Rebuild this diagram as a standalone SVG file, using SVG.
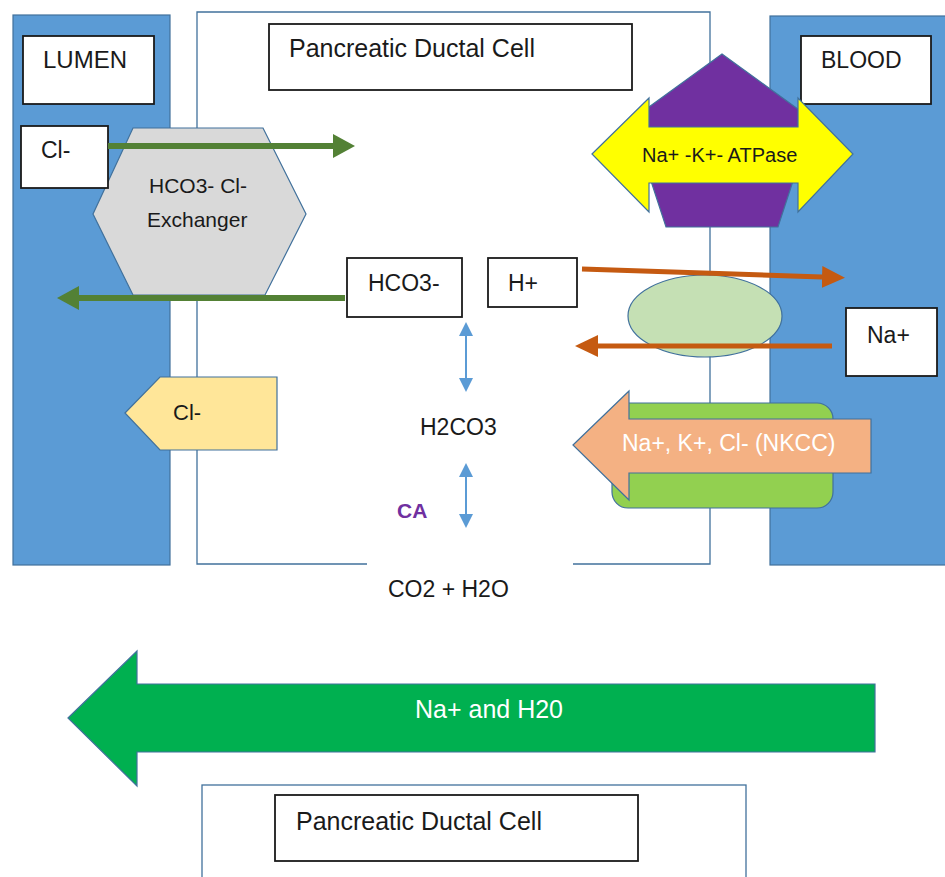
<svg xmlns="http://www.w3.org/2000/svg" width="945" height="877" viewBox="0 0 945 877">
<style>
  text { font-family: "Liberation Sans", Arial, sans-serif; fill: #1a1a1a; }
  .region { fill: #5b9bd5; stroke: #41719c; stroke-width: 1.2; }
  .cell { fill: none; stroke: #41719c; stroke-width: 1.3; }
  .box { fill: #ffffff; stroke: #1a1a1a; stroke-width: 1.8; }
  .shape { stroke: #41719c; stroke-width: 1.2; }
  .lbl { font-size: 23px; }
  .white { fill: #ffffff; }
  .green { stroke: #538135; stroke-width: 6; fill: none; }
  .orange { stroke: #c55a11; stroke-width: 5; fill: none; }
  .blue { stroke: #5b9bd5; stroke-width: 2; fill: none; }
</style>
<defs>
  <marker id="mGreen" markerUnits="userSpaceOnUse" markerWidth="22" markerHeight="24" refX="0" refY="12" orient="auto">
    <path d="M0,0 L22,12 L0,24 z" fill="#538135"/>
  </marker>
  <marker id="mOrange" markerUnits="userSpaceOnUse" markerWidth="23" markerHeight="22" refX="0" refY="11" orient="auto">
    <path d="M0,0 L23,11 L0,22 z" fill="#c55a11"/>
  </marker>
  <marker id="mBlue" markerUnits="userSpaceOnUse" markerWidth="14" markerHeight="14" refX="0" refY="7" orient="auto-start-reverse">
    <path d="M0,0 L14,7 L0,14 z" fill="#5b9bd5"/>
  </marker>
</defs>

<!-- Regions -->
<g id="lumen">
  <rect class="region" x="13" y="15" width="157" height="550"/>
</g>
<g id="blood">
  <rect class="region" x="770" y="16" width="180" height="549"/>
</g>
<g id="cell-top">
  <path class="cell" d="M367,564 H197 V12 H710 V564 H573"/>
</g>

<!-- Labels -->
<g id="lumen-label">
  <rect class="box" x="23" y="36" width="131" height="68"/>
  <text x="43" y="68" style="font-size:24px">LUMEN</text>
</g>
<g id="blood-label">
  <rect class="box" x="801" y="36" width="130" height="68"/>
  <text x="821" y="68" style="font-size:23px">BLOOD</text>
</g>
<g id="cell-title">
  <rect class="box" x="269" y="24" width="363" height="66"/>
  <text x="289" y="57" style="font-size:25px">Pancreatic Ductal Cell</text>
</g>

<!-- Exchanger -->
<g id="exchanger">
  <polygon class="shape" fill="#d9d9d9" points="133,128 263,128 306,214 265,295 133,295 93,214"/>
  <text x="149" y="193" style="font-size:21px">HCO3- Cl-</text>
  <text x="147" y="227" style="font-size:21px">Exchanger</text>
</g>
<g id="cl-lumen">
  <rect class="box" x="21" y="126" width="87" height="62"/>
  <text class="lbl" x="41" y="158">Cl-</text>
</g>

<!-- Cl- channel -->
<g id="cl-channel">
  <polygon class="shape" fill="#ffe699" points="125,413 160,377 277,377 277,450 160,450"/>
  <text x="173" y="420" style="font-size:22px">Cl-</text>
</g>

<!-- Na K ATPase -->
<g id="atpase">
  <polygon class="shape" fill="#7030a0" points="722,54 813,120 778,227 666,227 631,120"/>
  <polygon class="shape" fill="#ffff00" points="592,154 649,98 649,127 798,127 798,98 853,154 798,212 798,183 649,183 649,212"/>
  <text x="642" y="162" style="font-size:20px" fill="#000">Na+ -K+- ATPase</text>
</g>

<!-- Na/H exchanger -->
<g id="nhe">
  <ellipse class="shape" fill="#c5e0b4" cx="705" cy="316" rx="77" ry="41"/>
</g>

<g id="hco3">
  <rect class="box" x="347" y="258" width="115" height="59"/>
  <text class="lbl" x="368" y="291">HCO3-</text>
</g>
<g id="hplus">
  <rect class="box" x="488" y="258" width="89" height="49"/>
  <text class="lbl" x="508" y="291">H+</text>
</g>
<g id="na-blood">
  <rect class="box" x="846" y="308" width="91" height="68"/>
  <text class="lbl" x="867" y="343">Na+</text>
</g>

<g id="h2co3">
  <text class="lbl" x="420" y="435">H2CO3</text>
</g>
<g id="ca">
  <text x="397" y="518" style="font-size:21px;font-weight:bold;fill:#7030a0">CA</text>
</g>
<g id="co2h2o">
  <text class="lbl" x="388" y="597">CO2 + H2O</text>
</g>

<!-- Connectors -->
<g id="connectors">
  <line class="green" x1="108" y1="146" x2="333" y2="146" marker-end="url(#mGreen)"/>
  <line class="green" x1="345" y1="298" x2="79" y2="298" marker-end="url(#mGreen)"/>
  <line class="orange" x1="582" y1="269" x2="822" y2="277" marker-end="url(#mOrange)"/>
  <line class="orange" x1="832" y1="346" x2="598" y2="346" marker-end="url(#mOrange)"/>
  <line class="blue" x1="466" y1="336" x2="466" y2="378" marker-start="url(#mBlue)" marker-end="url(#mBlue)"/>
  <line class="blue" x1="466" y1="477" x2="466" y2="514" marker-start="url(#mBlue)" marker-end="url(#mBlue)"/>
</g>

<!-- NKCC -->
<g id="nkcc">
  <rect class="shape" fill="#92d050" x="612" y="403" width="221" height="105" rx="16"/>
  <polygon class="shape" fill="#f4b183" points="573,445 629,391 629,419 871,419 871,473 629,473 629,500"/>
  <text class="white" x="622" y="451" style="font-size:23px">Na+, K+, Cl- (NKCC)</text>
</g>

<!-- Na and H2O flow -->
<g id="na-h2o">
  <polygon class="shape" fill="#00b050" points="68,718 137,651 137,684 875,684 875,752 137,752 137,786"/>
  <text class="white" x="415" y="718" style="font-size:25px">Na+ and H20</text>
</g>

<!-- Bottom cell -->
<g id="cell-bottom">
  <rect class="cell" x="202" y="785" width="544" height="110"/>
  <rect class="box" x="275" y="795" width="363" height="66"/>
  <text x="296" y="830" style="font-size:25px">Pancreatic Ductal Cell</text>
</g>
</svg>
